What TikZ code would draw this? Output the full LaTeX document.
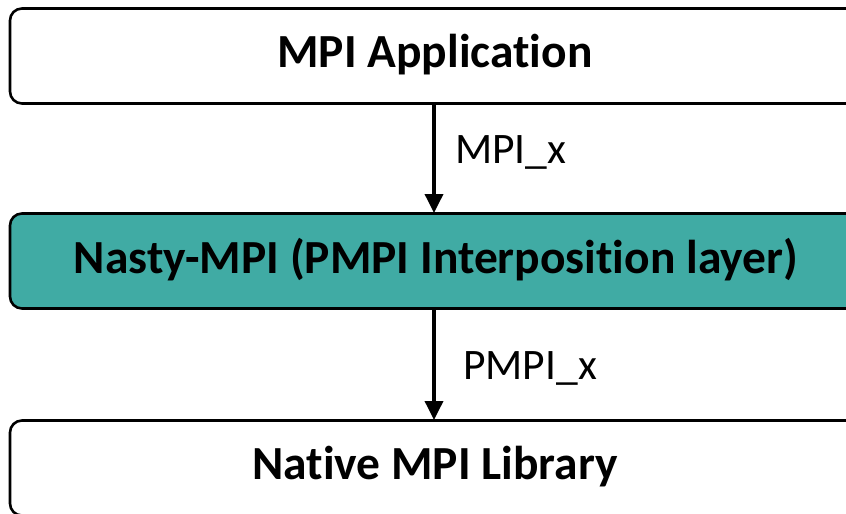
\documentclass[tikz,border=0pt]{standalone}
\usepackage{fontspec}
\setmainfont{Carlito}[Ligatures=NoCommon]
\usetikzlibrary{arrows.meta}
\definecolor{teal1}{RGB}{64,171,164}
\tikzset{
  layer/.style={draw=black, line width=2.6pt, rounded corners=12pt, minimum width=852pt, minimum height=95pt, inner sep=0pt},
  title/.style={font=\fontsize{47.5}{50}\selectfont\bfseries, inner sep=0pt},
  flow/.style={line width=3.6pt, -{Triangle[length=19pt,width=18pt]}},
  lbl/.style={font=\fontsize{43.5}{46}\selectfont, anchor=west, inner sep=0pt}
}
\begin{document}
\begin{tikzpicture}[x=1pt,y=-1pt]
\useasboundingbox (0,0) rectangle (846,514);
\clip (0,0) rectangle (846,514);
\node[layer, fill=white] (app) at (436,56) {};
\node[layer, fill=teal1] (nasty) at (436,261) {};
\node[layer, fill=white] (native) at (436,468) {};
\node[title] (tapp) at (435,55) {MPI Application};
\node[title] (tnasty) at (436,260) {Nasty-MPI (PMPI Interposition layer)};
\node[title] (tnative) at (435,467) {Native MPI Library};
\coordinate (a1) at (434,104);
\coordinate (a2) at (434,213);
\coordinate (b1) at (434,308);
\coordinate (b2) at (434,420);
\draw[flow] (a1) -- (a2);
\draw[flow] (b1) -- (b2);
\node[lbl] (l1) at (455,152) {MPI\_x};
\node[lbl] (l2) at (463,368) {PMPI\_x};
\end{tikzpicture}
\end{document}
